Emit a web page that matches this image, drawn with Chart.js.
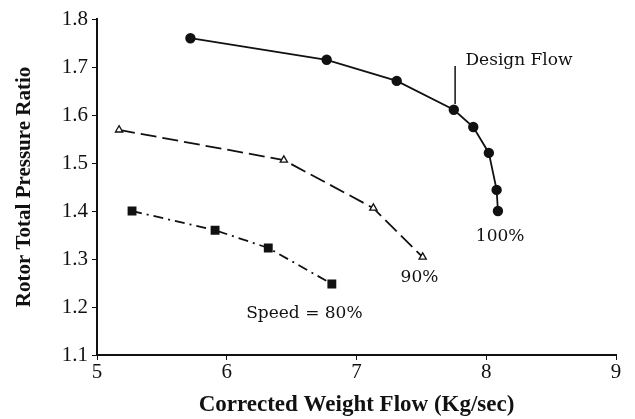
<!DOCTYPE html>
<html>
<head>
<meta charset="utf-8">
<script src="https://cdn.jsdelivr.net/npm/chart.js@4"></script>
<style>
  html, body { margin: 0; padding: 0; background: #fff; }
  #wrap { width: 635px; height: 419px; }
</style>
</head>
<body>
<div id="wrap"><canvas id="flowChart"></canvas></div>
<script>
// speed lines
let flow100 = [5.72, 6.77, 7.31, 7.75, 7.90, 8.02, 8.08, 8.09];
let ratio100 = [1.760, 1.715, 1.671, 1.611, 1.575, 1.521, 1.444, 1.400];
let flow90 = [5.17, 6.44, 7.13, 7.51];
let ratio90 = [1.569, 1.506, 1.406, 1.304];
let flow80 = [5.27, 5.91, 6.32, 6.81];
let ratio80 = [1.400, 1.360, 1.323, 1.248];

let xTicks = [5, 6, 7, 8, 9];
let yTicks = [1.1, 1.2, 1.3, 1.4, 1.5, 1.6, 1.7, 1.8];

// text labels on the plot [text, x, y]
let notes = [
    ["Design Flow", 7.84, 1.704],
    ["100%", 7.92, 1.346],
    ["90%", 7.34, 1.262],
    ["Speed = 80%", 6.15, 1.187],
];
let designMark = [7.76, 1.702, 1.623];

function toPoints(xs, ys) {
    return xs.map((x, i) => ({ x: x, y: ys[i] }));
}

let ink = "#111";
let serif = "'Liberation Serif', 'DejaVu Serif', serif";
let noteFont = "'DejaVu Serif', serif";

let notesPlugin = {
    id: "notes",
    afterDatasetsDraw(chart) {
        let ctx = chart.ctx;
        let xs = chart.scales.x;
        let ys = chart.scales.y;
        ctx.save();
        ctx.fillStyle = ink;
        ctx.font = "17px " + noteFont;
        ctx.textAlign = "left";
        notes.forEach(n => {
            ctx.textBaseline = n[0] == "Design Flow" ? "alphabetic" : "middle";
            ctx.fillText(n[0], xs.getPixelForValue(n[1]), ys.getPixelForValue(n[2]));
        });
        // design flow marker
        ctx.strokeStyle = ink;
        ctx.lineWidth = 1.5;
        ctx.beginPath();
        let mx = xs.getPixelForValue(designMark[0]);
        ctx.moveTo(mx, ys.getPixelForValue(designMark[1]));
        ctx.lineTo(mx, ys.getPixelForValue(designMark[2]));
        ctx.stroke();
        ctx.restore();
    },
};

let chartCanvas = document.getElementById("flowChart").getContext("2d");

new Chart(chartCanvas, {
    type: "scatter",
    data: {
        datasets: [{
            label: "100%",
            data: toPoints(flow100, ratio100),
            showLine: true,
            borderColor: ink,
            backgroundColor: ink,
            borderWidth: 1.8,
            pointStyle: "circle",
            pointRadius: 4.3,
        }, {
            label: "90%",
            data: toPoints(flow90, ratio90),
            showLine: true,
            borderColor: ink,
            backgroundColor: "#fff",
            borderWidth: 1.8,
            borderDash: [16, 6],
            pointStyle: "triangle",
            pointRadius: 4.2,
            pointBorderWidth: 1.3,
        }, {
            label: "80%",
            data: toPoints(flow80, ratio80),
            showLine: true,
            borderColor: ink,
            backgroundColor: ink,
            borderWidth: 1.8,
            borderDash: [10, 5, 2, 5],
            pointStyle: "rect",
            pointRadius: 5,
        }, ],
    },
    options: {
        responsive: true,
        maintainAspectRatio: false,
        animation: false,
        layout: {
            padding: { top: 19, right: 19, left: 0, bottom: 0 },
        },
        plugins: {
            legend: { display: false },
            tooltip: { enabled: false },
        },
        scales: {
            x: {
                type: "linear",
                min: 5,
                max: 9,
                afterBuildTicks: axis => {
                    axis.ticks = xTicks.map(v => ({ value: v }));
                },
                afterFit: axis => {
                    axis.height = 64;
                },
                grid: {
                    drawOnChartArea: false,
                    tickLength: 5,
                    color: ink,
                },
                border: { color: ink, width: 2 },
                ticks: {
                    color: ink,
                    font: { family: serif, size: 21 },
                    padding: 0,
                    maxRotation: 0,
                },
                title: {
                    display: true,
                    text: "Corrected Weight Flow (Kg/sec)",
                    color: ink,
                    font: { family: serif, size: 23, weight: "bold" },
                    padding: { top: 0, bottom: 0 },
                },
            },
            y: {
                type: "linear",
                min: 1.1,
                max: 1.8,
                afterBuildTicks: axis => {
                    axis.ticks = yTicks.map(v => ({ value: v }));
                },
                afterFit: axis => {
                    axis.width = 97;
                },
                grid: {
                    drawOnChartArea: false,
                    tickLength: 5,
                    color: ink,
                },
                border: { color: ink, width: 2 },
                ticks: {
                    color: ink,
                    font: { family: serif, size: 21 },
                    padding: 4,
                    callback: v => v.toFixed(1),
                },
                title: {
                    display: true,
                    text: "Rotor Total Pressure Ratio",
                    color: ink,
                    font: { family: serif, size: 21, weight: "bold" },
                    padding: { top: 12, bottom: 0 },
                },
            },
        },
    },
    plugins: [notesPlugin],
});
</script>
</body>
</html>
